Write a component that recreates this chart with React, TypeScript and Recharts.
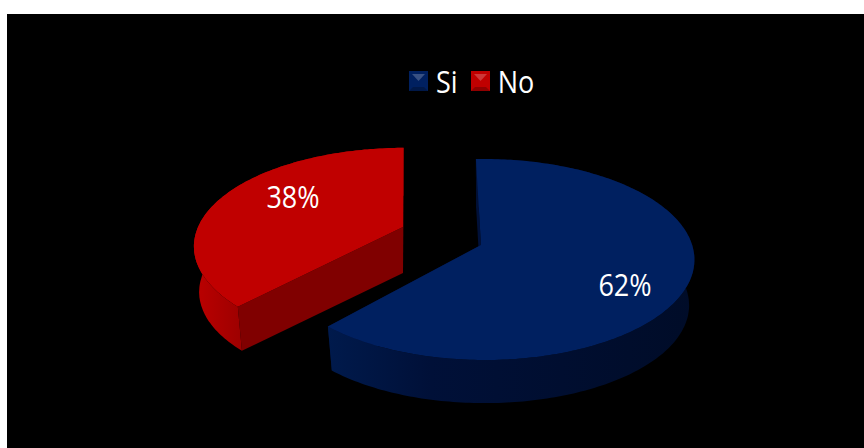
import React from "react";
import { PieChart, Pie, Legend } from "recharts";

const categories = ["Si", "No"];
const shares = [62, 38];
const topColors = ["#002060", "#c00000"];
const rimColors = ["#001a4c", "#bc0000"];
const rimMidColors = ["#001038", "#960000"];
const rimShadeColors = ["#000c28", "#800000"];
const cutColors = ["#001038", "#800000"];

const rows = categories.map((name, i) => ({ name, value: shares[i], fill: topColors[i], index: i }));

// Projection of the tilted, exploded disc
const WEDGE_PERSPECTIVE = [0.144, 0.2];
const SIDE_PERSPECTIVE = -0.015;
const SQUASH = 0.473;
const EXPLODE_X = 41.4;
const EXPLODE_Y = 26.9;
const DEPTH = 46;
const BASE_SCALE = 0.975;
const WEDGE_TURN = [-0.4, -2.2];
const WEDGE_HEIGHT = [1, 0.966];
const FONT = "'Open Sans', 'Noto Sans', sans-serif";
const TEXT_STRETCH = 1.18;

const RAD = Math.PI / 180;

function projector(cx: number, cy: number, R: number, mid: number, index: number) {
  const ox = cx + EXPLODE_X * Math.cos(mid * RAD);
  const oy = cy - EXPLODE_Y * Math.sin(mid * RAD);
  return {
    ox,
    oy,
    at(angle: number, radius = 1, lower = false) {
      const turned = (angle + WEDGE_TURN[index]) * RAD;
      const u = Math.cos(turned) * radius;
      const v = Math.sin(turned) * radius;
      const s = (1 / (1 + WEDGE_PERSPECTIVE[index] * v + SIDE_PERSPECTIVE * u)) * (lower ? BASE_SCALE : 1);
      return [ox + R * u * s, oy - R * SQUASH * WEDGE_HEIGHT[index] * v * s + (lower ? DEPTH : 0)];
    },
  };
}

function sweep(start: number, end: number, fn: (a: number) => number[]) {
  const n = Math.max(2, Math.ceil(Math.abs(end - start)));
  const pts: number[][] = [];
  for (let i = 0; i <= n; i++) pts.push(fn(start + ((end - start) * i) / n));
  return pts;
}

const toPath = (pts: number[][]) =>
  "M" + pts.map((p) => `${p[0].toFixed(1)},${p[1].toFixed(1)}`).join("L") + "Z";

function Wedge3D(props: any) {
  const { cx, cy, outerRadius, startAngle, endAngle, midAngle, payload } = props;
  const i = payload.index as number;
  const p = projector(cx, cy, outerRadius, midAngle, i);
  const upper = sweep(startAngle, endAngle, (a) => p.at(a));
  const lower = sweep(startAngle, endAngle, (a) => p.at(a, 1, true));
  const apexUp = [p.ox, p.oy];
  const apexDown = p.at(0, 0, true);
  const wallId = `wall-${i}`;
  return (
    <g>
      <defs>
        <linearGradient id={wallId} x1="0" y1="0" x2="1" y2="0">
          <stop offset="0%" stopColor={rimColors[i]} />
          <stop offset="28%" stopColor={rimMidColors[i]} />
          <stop offset="100%" stopColor={rimShadeColors[i]} />
        </linearGradient>
      </defs>
      <path d={toPath([apexUp, upper[upper.length - 1], lower[lower.length - 1], apexDown])} fill={cutColors[i]} />
      <path d={toPath([apexUp, upper[0], lower[0], apexDown])} fill={cutColors[i]} />
      <path d={toPath([...upper, ...lower.slice().reverse()])} fill={`url(#${wallId})`} />
      <path d={toPath([apexUp, ...upper])} fill={topColors[i]} />
    </g>
  );
}

const LABEL_SHIFT: Record<string, number[]> = { Si: [144, 39], No: [-110, -31] };

function ShareLabel(props: any) {
  const { cx, cy, outerRadius, midAngle, percent, payload } = props;
  const p = projector(cx, cy, outerRadius, midAngle, payload.index);
  const [dx, dy] = LABEL_SHIFT[payload.name];
  return (
    <text
      transform={`translate(${p.ox + dx},${p.oy + dy}) scale(1,${TEXT_STRETCH})`}
      x={0}
      y={0}
      textAnchor="middle"
      dominantBaseline="central"
      fill="#ffffff"
      fontFamily={FONT}
      fontSize={27}
    >
      {`${Math.round(percent * 100)}%`}
    </text>
  );
}

function LegendRow({ payload }: any) {
  return (
    <div style={{ display: "flex", alignItems: "center", color: "#fff", fontFamily: FONT, fontSize: 27, lineHeight: "30px" }}>
      {(payload || []).map((entry: any) => (
        <span key={entry.value} style={{ display: "flex", alignItems: "center", marginRight: 13 }}>
          <svg width={19} height={20} style={{ marginRight: 8 }}>
            <rect width={19} height={20} fill={entry.color} />
            <path d="M3,3L16,3L9.5,10Z" fill="#ffffff" opacity={0.22} />
            <path d="M0,20L19,20L15,16L4,16Z" fill="#000000" opacity={0.25} />
          </svg>
          <span style={{ display: "inline-block", transform: `scaleY(${TEXT_STRETCH})` }}>{entry.value}</span>
        </span>
      ))}
    </div>
  );
}

export default function App() {
  return (
    <div style={{ position: "absolute", left: 0, top: 0, width: 864, height: 448, background: "#ffffff", overflow: "hidden" }}>
      <div style={{ position: "absolute", left: 7, top: 14, width: 857, height: 434, background: "#000000" }} />
      <div style={{ position: "absolute", left: 0, top: 0 }}>
        <PieChart width={864} height={448} margin={{ top: 0, right: 0, bottom: 0, left: 0 }}>
          <Pie
            data={rows}
            dataKey="value"
            nameKey="name"
            cx={442}
            cy={236}
            innerRadius={0}
            outerRadius={208}
            startAngle={92}
            endAngle={-268}
            stroke="none"
            shape={Wedge3D}
            label={ShareLabel}
            labelLine={false}
            isAnimationActive={false}
          />
          <Legend
            content={<LegendRow />}
            itemSorter={null}
            wrapperStyle={{ position: "absolute", left: 409, top: 66, width: 160, bottom: "auto" }}
          />
        </PieChart>
      </div>
    </div>
  );
}
